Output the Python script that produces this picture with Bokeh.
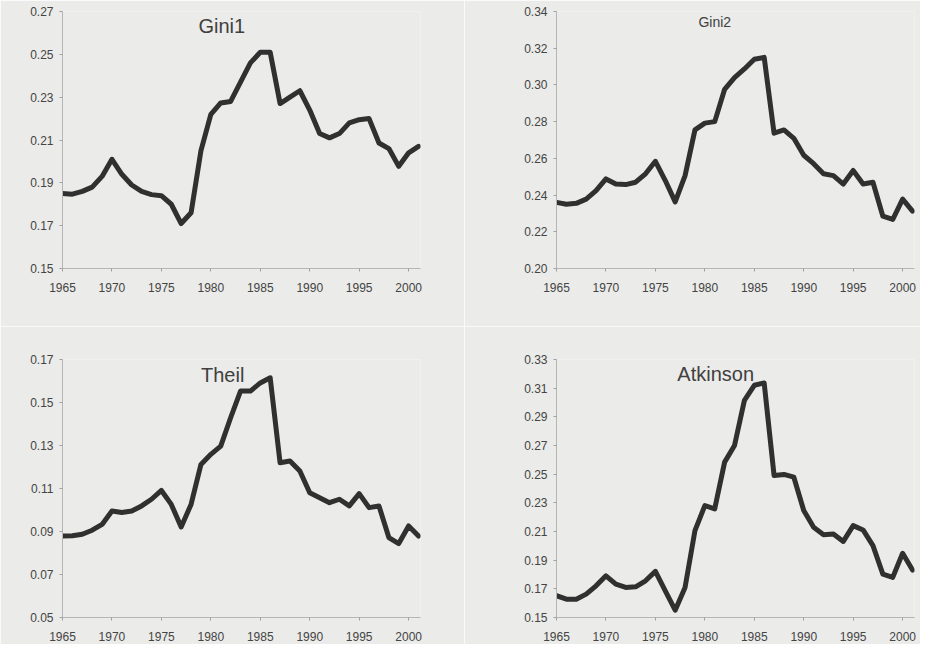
from bokeh.plotting import figure
from bokeh.layouts import gridplot
from bokeh.models import Label, FixedTicker, NumeralTickFormatter, Range1d
from bokeh.embed import file_html
from bokeh.resources import INLINE

years = list(range(1965, 2002))

gini1 = [0.185, 0.1847, 0.186, 0.188, 0.193, 0.201, 0.194, 0.189, 0.186, 0.1845,
         0.184, 0.180, 0.171, 0.176, 0.205, 0.222, 0.2273, 0.228, 0.237, 0.246,
         0.251, 0.251, 0.227, 0.230, 0.233, 0.224, 0.213, 0.211, 0.213, 0.218,
         0.2195, 0.220, 0.2086, 0.206, 0.1977, 0.204, 0.207]

gini2 = [0.236, 0.235, 0.2355, 0.2378, 0.2424, 0.2488, 0.246, 0.2457, 0.247, 0.2516,
         0.2584, 0.2479, 0.2363, 0.2506, 0.2755, 0.2792, 0.280, 0.2976, 0.304, 0.3087,
         0.314, 0.315, 0.2737, 0.2755, 0.2709, 0.2617, 0.2571, 0.2516, 0.2506, 0.246,
         0.2534, 0.246, 0.247, 0.2285, 0.2267, 0.2378, 0.2313]

theil = [0.0879, 0.088, 0.0887, 0.0906, 0.0933, 0.0995, 0.0988, 0.0995, 0.1019, 0.105,
         0.1091, 0.1026, 0.0921, 0.1026, 0.1212, 0.1259, 0.1297, 0.1429, 0.1553, 0.1553,
         0.1591, 0.1615, 0.122, 0.1228, 0.1181, 0.108, 0.1057, 0.1034, 0.105, 0.1019,
         0.1076, 0.1011, 0.1019, 0.0872, 0.0844, 0.0926, 0.0879]

atkinson = [0.1652, 0.1628, 0.1628, 0.1663, 0.1721, 0.1791, 0.1733, 0.171, 0.1714, 0.1756,
            0.1822, 0.1686, 0.1551, 0.171, 0.2106, 0.2281, 0.2258, 0.2584, 0.270, 0.3015,
            0.312, 0.3136, 0.2491, 0.2498, 0.2479, 0.2246, 0.2129, 0.2078, 0.2083, 0.2031,
            0.2141, 0.2111, 0.2001, 0.1803, 0.178, 0.1948, 0.1831]

x_ticks = [1965, 1970, 1975, 1980, 1985, 1990, 1995, 2000]
gini1_ticks = [0.15, 0.17, 0.19, 0.21, 0.23, 0.25, 0.27]
gini2_ticks = [0.20, 0.22, 0.24, 0.26, 0.28, 0.30, 0.32, 0.34]
theil_ticks = [0.05, 0.07, 0.09, 0.11, 0.13, 0.15, 0.17]
atkinson_ticks = [0.15, 0.17, 0.19, 0.21, 0.23, 0.25, 0.27, 0.29, 0.31, 0.33]

BG = "#ebebe9"
FONT = "Liberation Sans"


def panel(values, yticks, title, title_pos, title_size, size, borders):
    left, right, top, bottom = borders
    p = figure(width=size[0], height=size[1], output_backend="svg", toolbar_location=None,
               x_range=Range1d(1965, 2001.2),
               y_range=Range1d(yticks[0], yticks[-1]),
               min_border_left=left, min_border_right=right,
               min_border_top=top, min_border_bottom=bottom)
    p.background_fill_color = BG
    p.border_fill_color = BG
    p.outline_line_color = None
    p.xgrid.visible = False
    p.ygrid.visible = False
    p.line(years, values, line_width=5, line_color="#303030", line_join="round",
           line_cap="round")
    p.xaxis.ticker = FixedTicker(ticks=x_ticks)
    p.yaxis.ticker = FixedTicker(ticks=yticks)
    p.yaxis.formatter = NumeralTickFormatter(format="0.00")
    for ax in (p.xaxis[0], p.yaxis[0]):
        ax.axis_line_color = "#b5b5b5"
        ax.axis_line_width = 1
        ax.major_tick_line_color = "#a0a0a0"
        ax.major_tick_in = 0
        ax.major_tick_out = 3
        ax.minor_tick_line_color = None
        ax.major_label_text_font = FONT
        ax.major_label_text_font_size = "12px"
        ax.major_label_text_color = "#444444"
    p.xaxis.major_label_standoff = 11
    p.yaxis.major_label_standoff = 6
    p.add_layout(Label(x=title_pos[0], y=title_pos[1], text=title,
                       text_align="center", text_baseline="middle",
                       text_font=FONT, text_font_size=title_size,
                       text_color="#404040"))
    return p


p1 = panel(gini1, gini1_ticks, "Gini1", (1981.1, 0.263), "20px", (464, 326), (62, 42, 8, 58))
p2 = panel(gini2, gini2_ticks, "Gini2", (1981.0, 0.3345), "14px", (456, 326), (90, 6, 11, 58))
p3 = panel(theil, theil_ticks, "Theil", (1981.2, 0.163), "20px", (464, 318), (60, 44, 32, 27))
p4 = panel(atkinson, atkinson_ticks, "Atkinson", (1981.1, 0.3202), "20px", (456, 318), (92, 4, 33, 27))

grid = gridplot([[p1, p2], [p3, p4]], toolbar_location=None)

html = file_html(grid, INLINE)
html = html.replace("<body>", '<body style="background:%s">' % BG, 1)
open("out.html", "w").write(html)
